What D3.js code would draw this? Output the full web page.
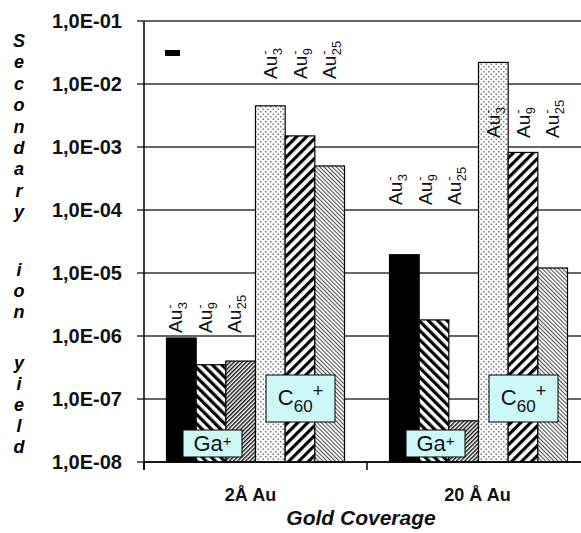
<!DOCTYPE html>
<html>
<head>
<meta charset="utf-8">
<script src="https://cdn.jsdelivr.net/npm/d3@7"></script>
<style>
  html, body { margin: 0; padding: 0; background: #fff; }
  svg { display: block; font-family: "Liberation Sans", Arial, Helvetica, sans-serif; }
</style>
</head>
<body>
<svg id="chart" width="581" height="533"></svg>
<script>
// ---------------- DATA ----------------
const categories = ["2Å Au", "20 Å Au"];
const series = ["Ga_Au3", "Ga_Au9", "Ga_Au25", "C60_Au3", "C60_Au9", "C60_Au25"];
const seriesSub = ["3", "9", "25", "3", "9", "25"];
const values2A  = [9.3e-7, 3.5e-7, 4.0e-7, 4.5e-3, 1.5e-3, 5.0e-4];
const values20A = [1.95e-5, 1.8e-6, 4.5e-8, 2.2e-2, 8.2e-4, 1.2e-5];
const tickValues = [1e-1, 1e-2, 1e-3, 1e-4, 1e-5, 1e-6, 1e-7, 1e-8];
const tickLabels = ["1,0E-01", "1,0E-02", "1,0E-03", "1,0E-04", "1,0E-05", "1,0E-06", "1,0E-07", "1,0E-08"];
const yTitleWords = ["Secondary", "ion", "yield"];
const xTitle = "Gold Coverage";
const primaryIons = ["Ga", "C60"];

// ---------------- LAYOUT ----------------
const svg = d3.select("#chart");
const plotLeft = 144, plotTop = 21, plotBottom = 462, plotRight = 590;

const y = d3.scaleLog().domain([1e-8, 1e-1]).range([plotBottom, plotTop]);
const x = d3.scaleBand().domain(categories).range([plotLeft, plotRight]).paddingInner(0).paddingOuter(0);
const bw = x.bandwidth();
const xs = d3.scaleBand().domain(series).range([22.5, 200.5]).padding(0);

// patterns
const defs = svg.append("defs");
function stripes(id, period, lw, angle, color) {
  const p = defs.append("pattern").attr("id", id).attr("patternUnits", "userSpaceOnUse")
    .attr("width", period).attr("height", period).attr("patternTransform", `rotate(${angle})`);
  p.append("rect").attr("width", period).attr("height", period).attr("fill", "#fff");
  p.append("rect").attr("x", 0).attr("y", 0).attr("width", lw).attr("height", period).attr("fill", color);
}
stripes("wideBack", 6.6, 3.2, -45, "#000");   // Ga Au9  "\\"
stripes("denseFwd", 2.9, 1.4, 45, "#111");    // Ga Au25 "//"
stripes("wideFwd", 7.0, 3.2, 45, "#000");     // C60 Au9 "//"
stripes("denseBack", 2.9, 1.1, -45, "#555");  // C60 Au25 "\\"
const dp = defs.append("pattern").attr("id", "dots").attr("patternUnits", "userSpaceOnUse")
  .attr("width", 5).attr("height", 5);
dp.append("rect").attr("width", 5).attr("height", 5).attr("fill", "#fff");
dp.append("rect").attr("x", 1).attr("y", 1).attr("width", 1.5).attr("height", 1.5).attr("fill", "#777");
dp.append("rect").attr("x", 3.5).attr("y", 3.5).attr("width", 1.5).attr("height", 1.5).attr("fill", "#777");

const fills = {
  Ga_Au3: "#000", Ga_Au9: "url(#wideBack)", Ga_Au25: "url(#denseFwd)",
  C60_Au3: "url(#dots)", C60_Au9: "url(#wideFwd)", C60_Au25: "url(#denseBack)"
};

// gridlines + ticks
svg.append("g").selectAll("line").data(tickValues).join("line")
  .attr("x1", plotLeft - 7).attr("x2", 581)
  .attr("y1", d => y(d)).attr("y2", d => y(d))
  .attr("stroke", "#333").attr("stroke-width", 1.4);

// y tick labels
svg.append("g").selectAll("text").data(tickValues).join("text")
  .attr("x", 122).attr("y", d => y(d) + 7)
  .attr("text-anchor", "end").attr("font-size", 20).attr("font-weight", "bold")
  .attr("fill", "#111")
  .text((d, i) => tickLabels[i]);

// bars
const data = [values2A, values20A];
const groups = svg.append("g").selectAll("g").data(categories).join("g")
  .attr("transform", d => `translate(${x(d)},0)`);
groups.selectAll("rect").data((c, ci) => series.map((s, si) => ({ s, v: data[ci][si] })))
  .join("rect")
  .attr("x", d => xs(d.s)).attr("width", xs.bandwidth())
  .attr("y", d => y(d.v)).attr("height", d => plotBottom - y(d.v))
  .attr("fill", d => fills[d.s]).attr("stroke", "#000").attr("stroke-width", 1.2);

// axes lines
svg.append("line").attr("x1", plotLeft).attr("x2", plotLeft).attr("y1", plotTop).attr("y2", plotBottom + 8)
  .attr("stroke", "#000").attr("stroke-width", 1.5);
svg.append("line").attr("x1", plotLeft).attr("x2", 581).attr("y1", plotBottom).attr("y2", plotBottom)
  .attr("stroke", "#000").attr("stroke-width", 1.5);
svg.append("g").selectAll("line").data(categories.concat(["end"])).join("line")
  .attr("x1", (d, i) => plotLeft + i * bw).attr("x2", (d, i) => plotLeft + i * bw)
  .attr("y1", plotBottom).attr("y2", plotBottom + 8)
  .attr("stroke", "#000").attr("stroke-width", 1.5);

// category labels
svg.append("g").selectAll("text").data(categories).join("text")
  .attr("x", (d, i) => x(d) + bw / 2 - (i === 0 ? 5 : 1)).attr("y", 501)
  .attr("text-anchor", "middle").attr("font-size", 18).attr("font-weight", "bold").attr("fill", "#111")
  .text(d => d);

svg.append("text").attr("x", 361).attr("y", 525).attr("text-anchor", "middle")
  .attr("font-size", 21).attr("font-weight", "bold").attr("font-style", "italic").attr("fill", "#111")
  .text(xTitle);

// y title (stacked letters)
const letterCenters = [
  d3.range(9).map(i => 41 + i * 21.4),
  [270, 291, 312],
  [363, 384, 405, 426, 447]
];
const yt = svg.append("g");
yTitleWords.forEach((w, wi) => {
  w.split("").forEach((ch, ci) => {
    yt.append("text").attr("x", 19).attr("y", letterCenters[wi][ci] + 6)
      .attr("text-anchor", "middle").attr("font-size", 18)
      .attr("font-weight", "bold").attr("font-style", "italic").attr("fill", "#000")
      .text(ch);
  });
});

// rotated Au labels: [bottom y, dx from bar centre] per category per ion group
const labelBottoms = [[333, 79], [205, 138]];
const labelDx = [[-6, 0], [-9, 0]];
categories.forEach((c, ci) => {
  series.forEach((s, si) => {
    const gi = si < 3 ? 0 : 1;
    const cx = x(c) + xs(s) + xs.bandwidth() / 2 + labelDx[ci][gi];
    const g = svg.append("g").attr("transform", `translate(${cx + 6.5},${labelBottoms[ci][gi]}) rotate(-90)`);
    const t = g.append("text").attr("x", 0).attr("y", 0).attr("font-size", 19).attr("fill", "#111").text("Au");
    const w = t.node().getComputedTextLength();
    g.append("text").attr("x", w + 0.5).attr("y", 5).attr("font-size", 13).attr("fill", "#111").text(seriesSub[si]);
    g.append("text").attr("x", w + 1).attr("y", -8).attr("font-size", 13).attr("fill", "#111").text("-");
  });
});

// primary ion boxes
const boxes = [
  { ion: "Ga", x0: 39, x1: 98, y0: 430, y1: 457 },
  { ion: "C60", x0: 122, x1: 191, y0: 375, y1: 422 }
];
categories.forEach(c => {
  boxes.forEach(b => {
    const g = svg.append("g").attr("transform", `translate(${x(c)},0)`);
    g.append("rect").attr("x", b.x0).attr("y", b.y0).attr("width", b.x1 - b.x0).attr("height", b.y1 - b.y0)
      .attr("fill", "#ccf8f8").attr("stroke", "#000").attr("stroke-width", 1);
    const cxm = (b.x0 + b.x1) / 2;
    if (b.ion === "Ga") {
      const t = g.append("text").attr("x", cxm).attr("y", b.y1 - 6).attr("text-anchor", "middle")
        .attr("font-size", 22).attr("fill", "#111");
      t.append("tspan").text("Ga");
      t.append("tspan").attr("font-size", 15).attr("dy", -5).text("+");
    } else {
      const t = g.append("text").attr("x", cxm).attr("y", b.y0 + 30).attr("text-anchor", "middle")
        .attr("font-size", 22).attr("fill", "#111");
      t.append("tspan").text("C");
      t.append("tspan").attr("font-size", 17).attr("dy", 7).text("60");
      t.append("tspan").attr("font-size", 18).attr("dy", -15).text("+");
    }
  });
});

// legend dash
svg.append("rect").attr("x", 165).attr("y", 50).attr("width", 15).attr("height", 6).attr("fill", "#000");
</script>
</body>
</html>
